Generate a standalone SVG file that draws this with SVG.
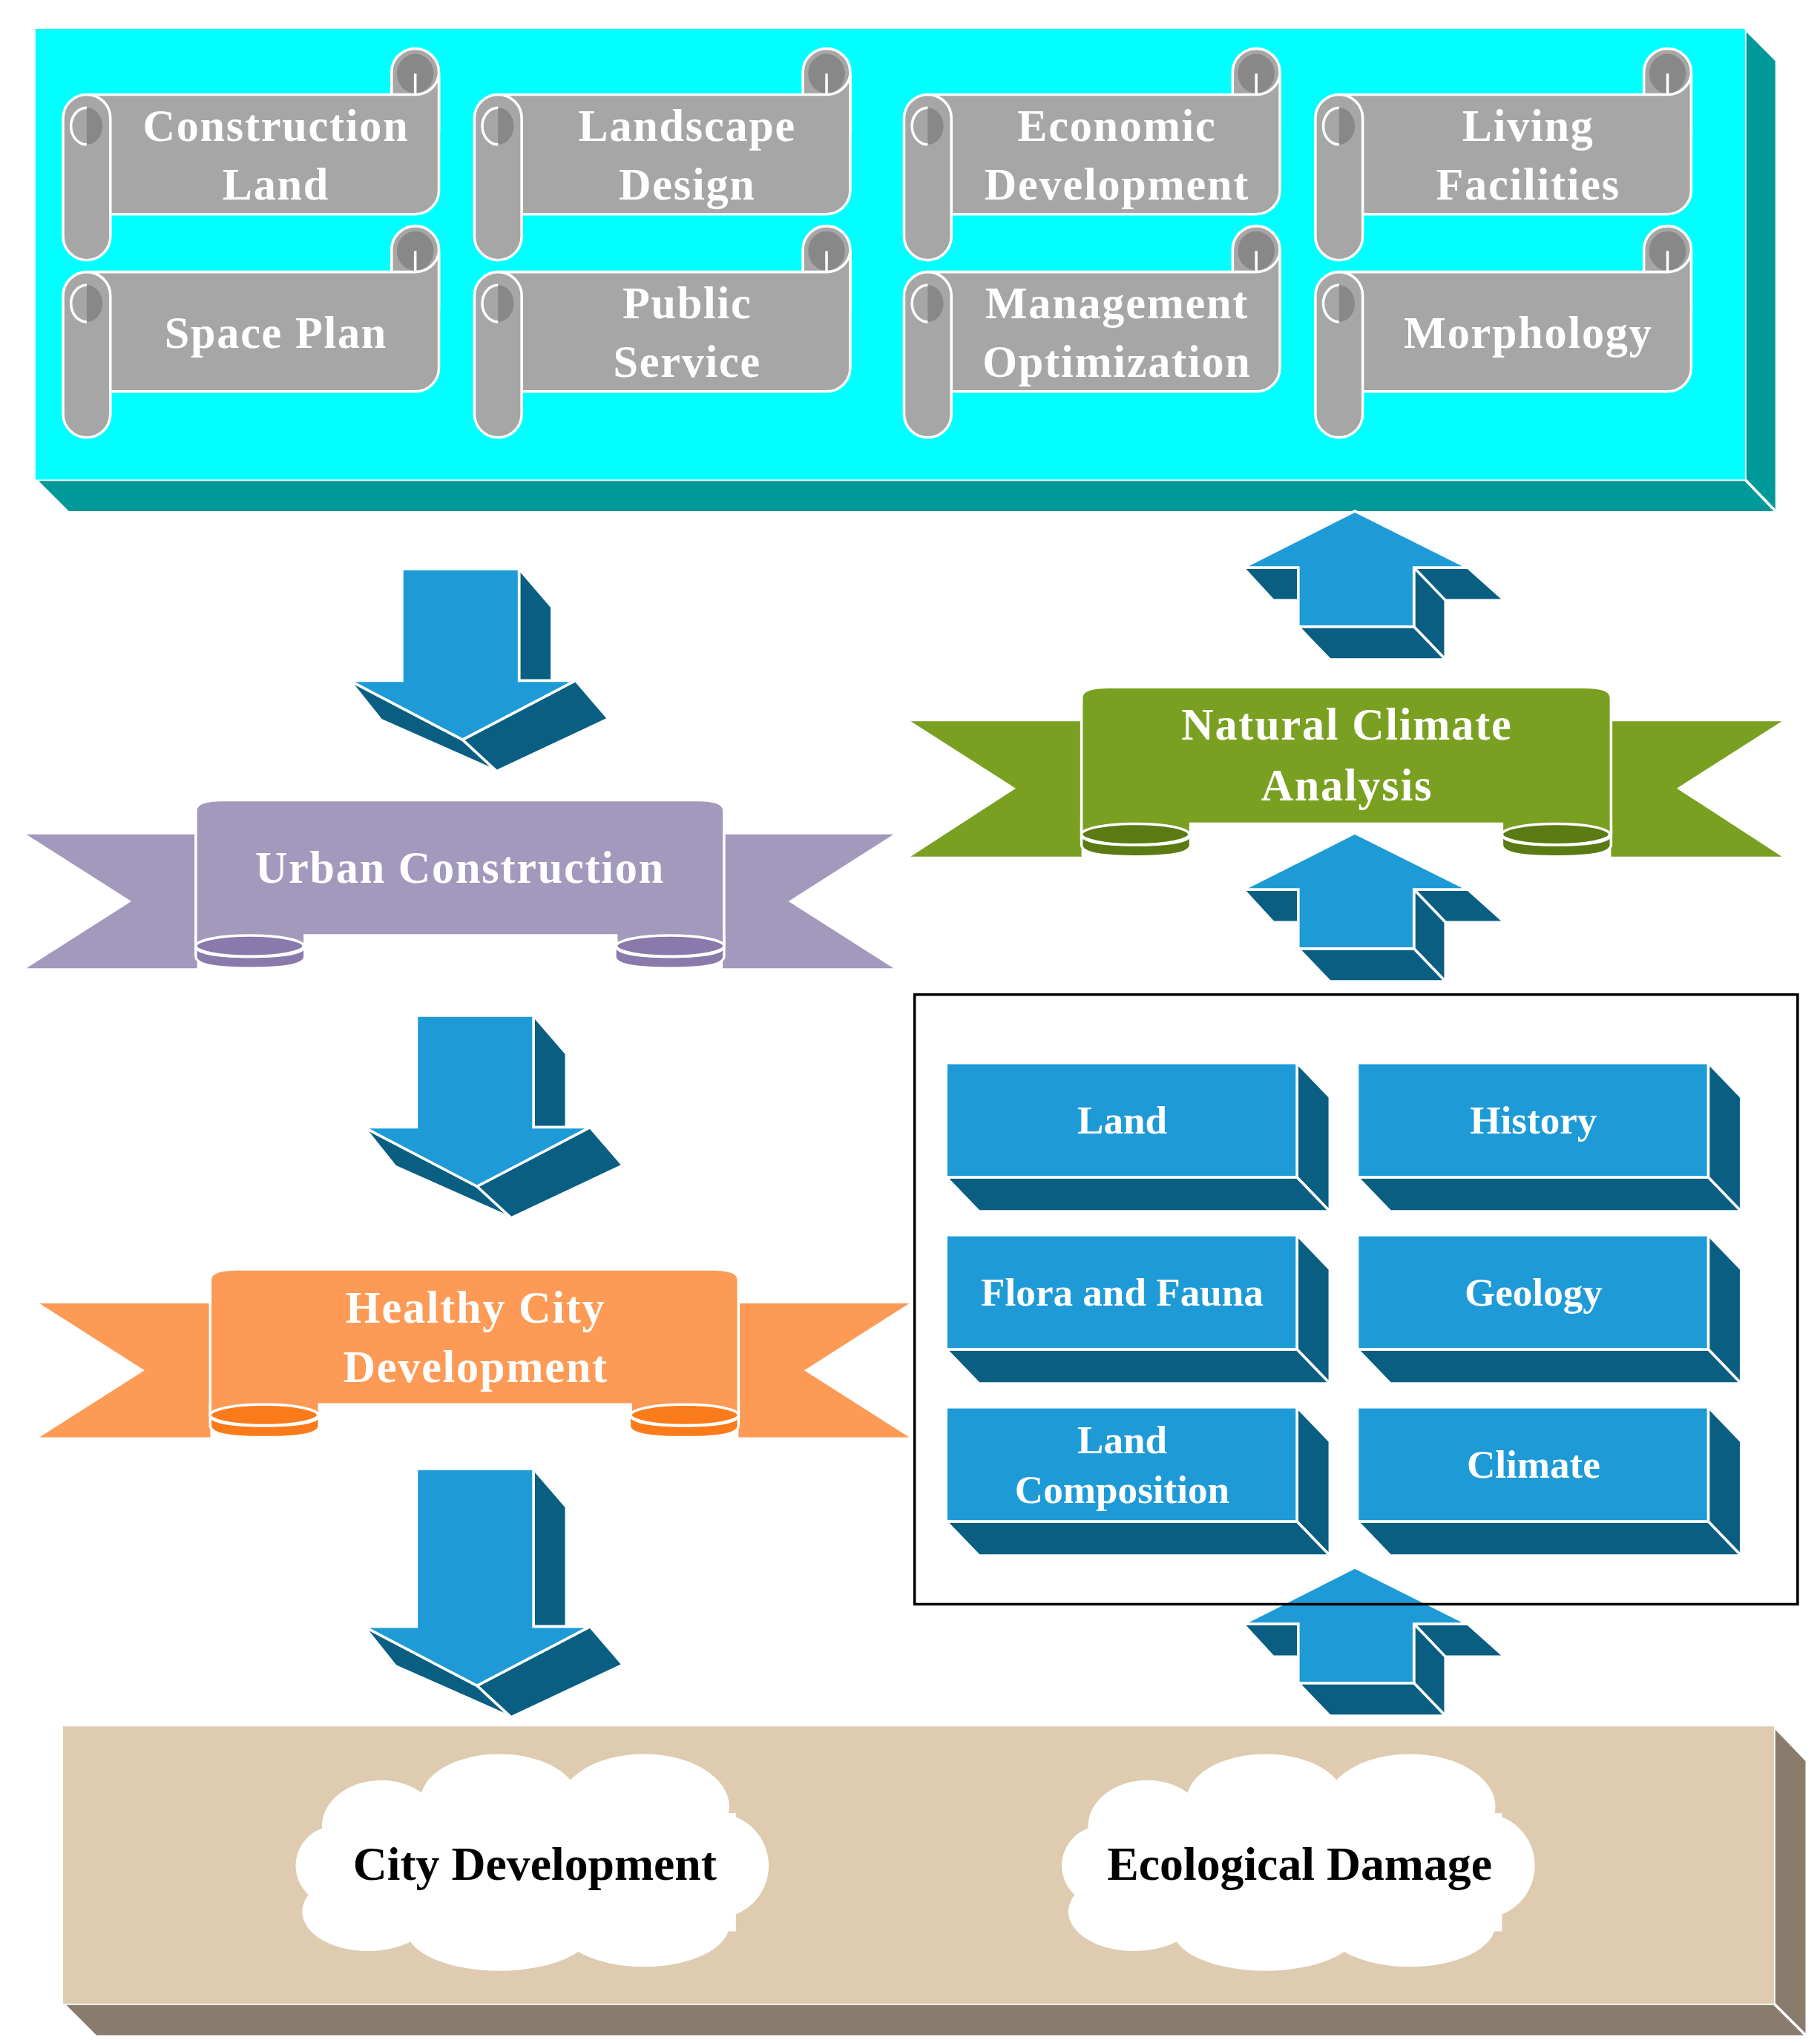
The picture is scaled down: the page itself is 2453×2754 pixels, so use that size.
<svg xmlns="http://www.w3.org/2000/svg" xmlns:xlink="http://www.w3.org/1999/xlink" width="2453" height="2754" viewBox="0 0 2453 2754">
<style>
.t{font-family:"Liberation Serif","Times New Roman",serif;font-weight:bold;fill:#fff;text-anchor:middle;}
.s{font-size:34px;letter-spacing:1px}
.b{font-size:30px}
.w{stroke:#fff;stroke-width:2}
.lb{fill:#1e9bd7}
.db{fill:#0a5e82}
</style>
<defs>
<g id="scroll">
<rect x="250" y="0" width="36" height="80" rx="18" fill="#a6a6a6" class="w"/>
<ellipse cx="268" cy="19" rx="14" ry="15" fill="#888"/>
<path d="M268,19 V35" stroke="#fff" stroke-width="2"/>
<path d="M18,35 H268 A18,18 0 0 0 286,20 V108 A18,18 0 0 1 268,126 H18 Z" fill="#a6a6a6" class="w"/>
<rect x="0" y="35" width="36" height="126" rx="18" fill="#a6a6a6" class="w"/>
<path d="M18,45 A12,14 0 0 1 18,73 Z" fill="#888"/>
<path d="M18,45 A12,14 0 0 0 18,73" fill="none" stroke="#fff" stroke-width="2"/>
</g>
<g id="darrow">
<path d="M89,0 L114,29 L114,85 L89,85 Z" class="db w"/>
<path d="M-40,85 L-16,115 L72,154 L46,130 Z" class="db w"/>
<path d="M46,130 L72,154 L157,114 L132,85 Z" class="db w"/>
<path d="M0,0 H89 V85 H132 L46,130 L-40,85 H0 Z" class="lb w"/>
</g>
<g id="uarrow">
<path d="M-85,43 L-62,68 L-43,68 L-43,43 Z" class="db w"/>
<path d="M45,43 L86,43 L114,68 L69,68 Z" class="db w"/>
<path d="M45,43 L69,68 L69,113 L45,88 Z" class="db w"/>
<path d="M-43,88 L45,88 L69,113 L-19,113 Z" class="db w"/>
<path d="M0,0 L86,43 H45 V88 H-43 V43 H-85 Z" class="lb w"/>
</g>
<g id="block">
<path d="M267,0 L292,26 L292,113 L267,87 Z" class="db w"/>
<path d="M0,87 L267,87 L292,113 L25,113 Z" class="db w"/>
<rect x="0" y="0" width="267" height="87" class="lb w"/>
</g>
</defs>
<g transform="scale(1.7711)">
<g id="top-panel">
<path d="M1328,22 L1352,46 L1352,390 L1328,365 Z" fill="#009999" class="w"/>
<path d="M27,365 L1328,365 L1352,390 L52,390 Z" fill="#009999" class="w"/>
<rect x="27" y="22" width="1301" height="343" fill="#00ffff"/>
</g>
<g id="scroll-construction-land"><use xlink:href="#scroll" x="48" y="37"/><text class="t s" x="210" y="107">Construction</text><text class="t s" x="210" y="152">Land</text></g>
<g id="scroll-space-plan"><use xlink:href="#scroll" x="48" y="172"/><text class="t s" x="210" y="265">Space Plan</text></g>
<g id="scroll-landscape-design"><use xlink:href="#scroll" x="361" y="37"/><text class="t s" x="523" y="107">Landscape</text><text class="t s" x="523" y="152">Design</text></g>
<g id="scroll-public-service"><use xlink:href="#scroll" x="361" y="172"/><text class="t s" x="523" y="242">Public</text><text class="t s" x="523" y="287">Service</text></g>
<g id="scroll-economic-development"><use xlink:href="#scroll" x="688" y="37"/><text class="t s" x="850" y="107">Economic</text><text class="t s" x="850" y="152">Development</text></g>
<g id="scroll-management-optimization"><use xlink:href="#scroll" x="688" y="172"/><text class="t s" x="850" y="242">Management</text><text class="t s" x="850" y="287">Optimization</text></g>
<g id="scroll-living-facilities"><use xlink:href="#scroll" x="1001" y="37"/><text class="t s" x="1163" y="107">Living</text><text class="t s" x="1163" y="152">Facilities</text></g>
<g id="scroll-morphology"><use xlink:href="#scroll" x="1001" y="172"/><text class="t s" x="1163" y="265">Morphology</text></g>

<g id="connectors">
<use xlink:href="#darrow" x="306" y="433"/>
<use xlink:href="#darrow" x="317" y="773"/>
<g transform="translate(317,1118)">
<path d="M89,0 L114,29 L114,120 L89,120 Z" class="db w"/>
<path d="M-40,120 L-16,150 L72,189 L46,165 Z" class="db w"/>
<path d="M46,165 L72,189 L157,149 L132,120 Z" class="db w"/>
<path d="M0,0 H89 V120 H132 L46,165 L-40,120 H0 Z" class="lb w"/>
</g>
<use xlink:href="#uarrow" x="1031" y="389"/>
<use xlink:href="#uarrow" x="1031" y="634"/>
<use xlink:href="#uarrow" x="1031" y="1193"/>
</g>

<g id="banner-urban">
<path d="M20,635 H150 V737 H20 L100,686 Z" fill="#a299bd"/>
<path d="M680,635 H550 V737 H680 L600,686 Z" fill="#a299bd"/>
<path d="M149,712 H232 V728 A0,0 0 0 1 232,728 Q232,737 190,737 Q149,737 149,728 Z" fill="#8a7aab" class="w"/>
<path d="M551,712 H468 V728 Q468,737 510,737 Q551,737 551,728 Z" fill="#8a7aab" class="w"/>
<path d="M149,617 Q149,609 170,609 H530 Q551,609 551,617 V720 Q551,728 510,728 Q469,728 469,720 V712 H232 V720 Q232,728 190,728 Q149,728 149,720 Z" fill="#a299bd" class="w"/>
<ellipse cx="190" cy="720" rx="41" ry="8" fill="#8a7aab" class="w"/>
<ellipse cx="510" cy="720" rx="41" ry="8" fill="#8a7aab" class="w"/>
<text class="t s" x="350" y="672">Urban Construction</text>
</g>

<g id="banner-natural">
<path d="M693,549 H823 V652 H693 L773,600 Z" fill="#7aa022"/>
<path d="M1356,549 H1226 V652 H1356 L1276,600 Z" fill="#7aa022"/>
<path d="M823,627 H906 V643 Q906,652 864,652 Q823,652 823,643 Z" fill="#5a7a14" class="w"/>
<path d="M1226,627 H1143 V643 Q1143,652 1184,652 Q1226,652 1226,643 Z" fill="#5a7a14" class="w"/>
<path d="M823,531 Q823,523 844,523 H1205 Q1226,523 1226,531 V635 Q1226,643 1184,643 Q1143,643 1143,635 V627 H906 V635 Q906,643 864,643 Q823,643 823,635 Z" fill="#7aa022" class="w"/>
<ellipse cx="864" cy="635" rx="41" ry="8" fill="#5a7a14" class="w"/>
<ellipse cx="1184" cy="635" rx="41" ry="8" fill="#5a7a14" class="w"/>
<text class="t s" x="1025" y="563">Natural Climate</text>
<text class="t s" x="1025" y="609">Analysis</text>
</g>

<g id="banner-healthy">
<path d="M30,992 H160 V1094 H30 L110,1043 Z" fill="#fd9a55"/>
<path d="M692,992 H562 V1094 H692 L612,1043 Z" fill="#fd9a55"/>
<path d="M160,1069 H243 V1085 Q243,1094 201,1094 Q160,1094 160,1085 Z" fill="#fb7b1a" class="w"/>
<path d="M562,1069 H479 V1085 Q479,1094 521,1094 Q562,1094 562,1085 Z" fill="#fb7b1a" class="w"/>
<path d="M160,974 Q160,966 181,966 H541 Q562,966 562,974 V1077 Q562,1085 521,1085 Q480,1085 480,1077 V1069 H243 V1077 Q243,1085 201,1085 Q160,1085 160,1077 Z" fill="#fd9a55" class="w"/>
<ellipse cx="201" cy="1077" rx="41" ry="8" fill="#fb7b1a" class="w"/>
<ellipse cx="521" cy="1077" rx="41" ry="8" fill="#fb7b1a" class="w"/>
<text class="t s" x="362" y="1007">Healthy City</text>
<text class="t s" x="362" y="1052">Development</text>
</g>

<g id="factors-box">
<rect x="696" y="757" width="672" height="464" fill="none" stroke="#000" stroke-width="2"/>
</g>
<g id="block-land"><use xlink:href="#block" x="720" y="809"/><text class="t b" x="854" y="863">Land</text></g>
<g id="block-history"><use xlink:href="#block" x="1033" y="809"/><text class="t b" x="1167" y="863">History</text></g>
<g id="block-flora"><use xlink:href="#block" x="720" y="940"/><text class="t b" x="854" y="994">Flora and Fauna</text></g>
<g id="block-geology"><use xlink:href="#block" x="1033" y="940"/><text class="t b" x="1167" y="994">Geology</text></g>
<g id="block-composition"><use xlink:href="#block" x="720" y="1071"/><text class="t b" x="854" y="1106">Land</text><text class="t b" x="854" y="1144">Composition</text></g>
<g id="block-climate"><use xlink:href="#block" x="1033" y="1071"/><text class="t b" x="1167" y="1125">Climate</text></g>

<g id="bottom-panel">
<path d="M1350,1314 L1375,1340 L1375,1550 L1350,1525 Z" fill="#8a7c6c" class="w"/>
<path d="M48,1525 L1350,1525 L1375,1550 L73,1550 Z" fill="#8a7c6c" class="w"/>
<rect x="48" y="1314" width="1302" height="211" fill="#decbb0"/>
</g>
<g id="cloud-city" fill="#fff">
<ellipse cx="290" cy="1390" rx="45" ry="35"/>
<ellipse cx="380" cy="1370" rx="60" ry="35"/>
<ellipse cx="490" cy="1375" rx="65" ry="40"/>
<ellipse cx="545" cy="1420" rx="40" ry="40"/>
<ellipse cx="490" cy="1465" rx="65" ry="32"/>
<ellipse cx="380" cy="1470" rx="70" ry="30"/>
<ellipse cx="280" cy="1455" rx="50" ry="30"/>
<ellipse cx="255" cy="1420" rx="30" ry="30"/>
<rect x="260" y="1380" width="300" height="90"/>
<text class="t" style="fill:#000;font-size:36px" x="407" y="1431">City Development</text>
</g>
<g id="cloud-eco" fill="#fff">
<ellipse cx="873" cy="1390" rx="45" ry="35"/>
<ellipse cx="963" cy="1370" rx="60" ry="35"/>
<ellipse cx="1073" cy="1375" rx="65" ry="40"/>
<ellipse cx="1128" cy="1420" rx="40" ry="40"/>
<ellipse cx="1073" cy="1465" rx="65" ry="32"/>
<ellipse cx="963" cy="1470" rx="70" ry="30"/>
<ellipse cx="863" cy="1455" rx="50" ry="30"/>
<ellipse cx="838" cy="1420" rx="30" ry="30"/>
<rect x="843" y="1380" width="300" height="90"/>
<text class="t" style="fill:#000;font-size:36px" x="989" y="1431">Ecological Damage</text>
</g>
</g>
</svg>
